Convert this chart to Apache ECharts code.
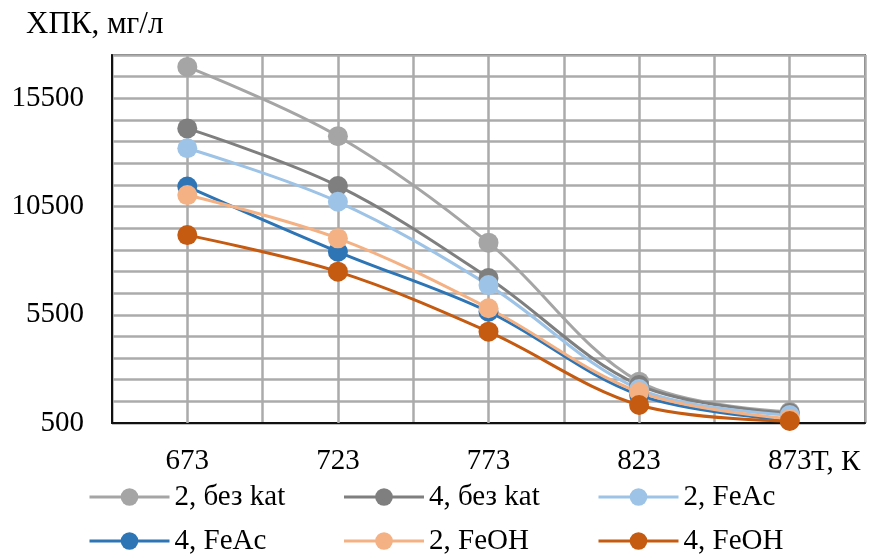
<!DOCTYPE html>
<html>
<head>
<meta charset="utf-8">
<script src="https://cdn.jsdelivr.net/npm/echarts@6/dist/echarts.min.js"></script>
<style>
html,body{margin:0;padding:0;background:#fff;}
#chart{width:870px;height:558px;}
</style>
</head>
<body>
<div id="chart"></div>
<script>
var temps = ['673', '723', '773', '823', '873'];
var yTickLabels = [500, 5500, 10500, 15500];
var seriesNames = ['2, без kat', '4, без kat', '2, FeAc', '4, FeAc', '2, FeOH', '4, FeOH'];
var s2NoCat = [16950, 13750, 8830, 2410, 1020];
var s4NoCat = [14110, 11450, 7200, 2250, 960];
var s2FeAc = [13190, 10720, 6870, 2070, 870];
var s4FeAc = [11420, 8410, 5640, 1790, 640];
var s2FeOH = [11030, 9030, 5800, 1930, 690];
var s4FeOH = [9180, 7490, 4720, 1330, 590];
var colors = ['#A5A5A5', '#7F7F7F', '#9DC3E6', '#2E75B6', '#F4B183', '#C55A11'];

var FONT = 'Liberation Serif';
var GRID_COLOR = '#ABABAB';
var values = [s2NoCat, s4NoCat, s2FeAc, s4FeAc, s2FeOH, s4FeOH];
var series = values.map(function (v, i) {
  return {
    name: seriesNames[i],
    type: 'line',
    data: v,
    smooth: 0.35,
    symbol: 'circle',
    symbolSize: 20,
    color: colors[i],
    lineStyle: { width: 3, color: colors[i] },
    itemStyle: { color: colors[i] }
  };
});

var legendCommon = {
  left: 88,
  padding: 0,
  itemWidth: 80,
  itemHeight: 22,
  itemGap: 18,
  lineStyle: { width: 3 },
  textStyle: { fontFamily: FONT, fontSize: 29, color: '#000', width: 150, lineHeight: 30 }
};

var chart = echarts.init(document.getElementById('chart'));
chart.setOption({
  backgroundColor: '#fff',
  animation: false,
  title: {
    text: 'ХПК, мг/л',
    left: 26,
    top: 9,
    padding: 0,
    textStyle: { fontFamily: FONT, fontSize: 31, fontWeight: 'normal', color: '#000' }
  },
  legend: [
    Object.assign({}, legendCommon, { top: 482, data: seriesNames.slice(0, 3) }),
    Object.assign({}, legendCommon, { top: 526, data: seriesNames.slice(3, 6) })
  ],
  grid: { left: 112, right: 5, top: 55, bottom: 135, show: true, borderColor: '#111', borderWidth: 1.5 },
  xAxis: {
    type: 'category',
    data: temps,
    boundaryGap: true,
    name: 'T, К',
    nameLocation: 'end',
    nameGap: -54,
    nameMoveOverlap: false,
    nameTextStyle: { fontFamily: FONT, fontSize: 29, color: '#000', verticalAlign: 'top', padding: [25, 0, 0, 0] },
    axisLine: { lineStyle: { color: '#111', width: 2 } },
    axisTick: { show: true, inside: true, alignWithLabel: true, length: 368, lineStyle: { color: GRID_COLOR, width: 2.5 } },
    axisLabel: { fontFamily: FONT, fontSize: 29, color: '#000', margin: 24 },
    splitLine: { show: true, lineStyle: { color: GRID_COLOR, width: 2.5 } }
  },
  yAxis: {
    type: 'value',
    min: 500,
    max: 17500,
    interval: 1000,
    axisLine: { show: true, lineStyle: { color: '#111', width: 2 } },
    axisTick: { show: false },
    axisLabel: {
      fontFamily: FONT, fontSize: 29, color: '#000', margin: 28,
      formatter: function (v) { return yTickLabels.indexOf(v) >= 0 ? String(v) : ''; }
    },
    splitLine: { show: true, lineStyle: { color: GRID_COLOR, width: 2.5 } }
  },
  series: series
});
</script>
</body>
</html>
